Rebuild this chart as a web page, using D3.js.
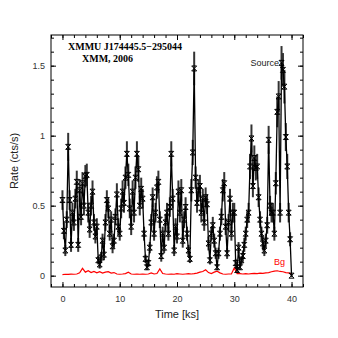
<!DOCTYPE html>
<html>
<head>
<meta charset="utf-8">
<script src="https://cdn.jsdelivr.net/npm/d3@7"></script>
<style>
  body { margin: 0; background: #fff; }
  .tick text { font-family: "Liberation Sans", Arial, sans-serif; font-size: 9px; fill: #333; }
  .axis-label { font-family: "Liberation Sans", Arial, sans-serif; font-size: 11px; fill: #222; }
  .title { font-family: "Liberation Serif", "Times New Roman", serif; font-size: 10px; font-weight: bold; fill: #000; }
</style>
</head>
<body>
<div id="chart"></div>
<script>
/* CONSTANTS AND GLOBALS */
const width = 338,
  height = 338,
  margin = { top: 35, bottom: 51, left: 51, right: 35 };

// source light curve, 0.25 ks bins starting at t = 0
const binSize = 0.25;
const rate = [
  0.54, 0.32, 0.18, 0.40, 0.92, 0.54, 0.22, 0.45, 0.38, 0.55,
  0.67, 0.22, 0.61, 0.42, 0.66, 0.50, 0.71, 0.72, 0.45, 0.33,
  0.50, 0.60, 0.38, 0.28, 0.35, 0.11, 0.08, 0.13, 0.25, 0.15,
  0.38, 0.54, 0.48, 0.30, 0.40, 0.21, 0.25, 0.42, 0.58, 0.35,
  0.30, 0.48, 0.60, 0.52, 0.70, 0.87, 0.72, 0.48, 0.35, 0.60,
  0.45, 0.70, 0.87, 0.76, 0.50, 0.62, 0.55, 0.30, 0.12, 0.06,
  0.09, 0.20, 0.38, 0.56, 0.30, 0.45, 0.63, 0.67, 0.40, 0.14,
  0.30, 0.20, 0.38, 0.45, 0.30, 0.49, 0.87, 0.55, 0.18, 0.35,
  0.28, 0.60, 0.45, 0.61, 0.25, 0.40, 0.49, 0.30, 0.18, 0.12,
  0.61, 0.88, 1.48, 0.70, 0.52, 0.61, 0.64, 0.45, 0.55, 0.38,
  0.56, 0.51, 0.23, 0.11, 0.30, 0.36, 0.25, 0.16, 0.06, 0.16,
  0.30, 0.42, 0.61, 0.66, 0.35, 0.16, 0.38, 0.55, 0.30, 0.45,
  0.45, 0.09, 0.04, 0.20, 0.06, 0.11, 0.14, 0.22, 0.30, 0.40,
  0.45, 0.78, 0.98, 0.64, 0.84, 0.77, 0.78, 0.56, 0.40, 0.30,
  0.23, 0.18, 0.25, 0.36, 0.97, 0.50, 0.45, 0.45, 0.30, 0.66,
  1.17, 1.28, 0.45, 1.52, 1.47, 1.35, 0.99, 0.78, 0.45, 0.26,
  0.00
];
const rateErr = [
  0.07, 0.06, 0.04, 0.06, 0.10, 0.07, 0.05, 0.07, 0.06, 0.07,
  0.08, 0.05, 0.08, 0.06, 0.08, 0.07, 0.08, 0.08, 0.07, 0.06,
  0.07, 0.08, 0.06, 0.05, 0.06, 0.03, 0.03, 0.04, 0.05, 0.04,
  0.06, 0.07, 0.07, 0.05, 0.06, 0.05, 0.05, 0.06, 0.08, 0.06,
  0.05, 0.07, 0.08, 0.07, 0.08, 0.09, 0.08, 0.07, 0.06, 0.08,
  0.07, 0.08, 0.09, 0.09, 0.07, 0.08, 0.07, 0.05, 0.03, 0.02,
  0.03, 0.04, 0.06, 0.07, 0.05, 0.07, 0.08, 0.08, 0.06, 0.04,
  0.05, 0.04, 0.06, 0.07, 0.05, 0.07, 0.09, 0.07, 0.04, 0.06,
  0.05, 0.08, 0.07, 0.08, 0.05, 0.06, 0.07, 0.05, 0.04, 0.03,
  0.08, 0.09, 0.12, 0.08, 0.07, 0.08, 0.08, 0.07, 0.07, 0.06,
  0.07, 0.07, 0.05, 0.03, 0.05, 0.06, 0.05, 0.04, 0.02, 0.04,
  0.05, 0.06, 0.08, 0.08, 0.06, 0.04, 0.06, 0.07, 0.05, 0.07,
  0.07, 0.03, 0.02, 0.04, 0.02, 0.03, 0.04, 0.05, 0.05, 0.06,
  0.07, 0.09, 0.10, 0.08, 0.09, 0.09, 0.09, 0.07, 0.06, 0.05,
  0.05, 0.04, 0.05, 0.06, 0.10, 0.07, 0.07, 0.07, 0.05, 0.08,
  0.11, 0.11, 0.07, 0.12, 0.12, 0.12, 0.10, 0.09, 0.07, 0.05,
  0.01
];

// background light curve, 0.5 ks bins
const bgBinSize = 0.5;
const bgRate = [
  0.008, 0.010, 0.009, 0.011, 0.010, 0.012, 0.020, 0.052, 0.025, 0.035,
  0.022, 0.030, 0.020, 0.028, 0.018, 0.025, 0.028, 0.018, 0.022, 0.012,
  0.010, 0.012, 0.015, 0.025, 0.012, 0.010, 0.011, 0.010, 0.012, 0.010,
  0.012, 0.020, 0.012, 0.015, 0.048, 0.015, 0.012, 0.010, 0.012, 0.010,
  0.014, 0.012, 0.010, 0.012, 0.014, 0.012, 0.014, 0.018, 0.025, 0.030,
  0.042, 0.022, 0.015, 0.025, 0.032, 0.020, 0.012, 0.010, 0.012, 0.012,
  0.055, 0.015, 0.015, 0.012, 0.015, 0.012, 0.014, 0.016, 0.015, 0.018,
  0.016, 0.020, 0.022, 0.028, 0.032, 0.035, 0.030, 0.028, 0.022, 0.020,
  0.012
];

const xMajor = [0, 10, 20, 30, 40];
const xMinor = d3.range(-2, 42.01, 2);
const yMajor = [0, 0.5, 1, 1.5];
const yMinor = d3.range(0, 1.71, 0.1);
const titleLines = ["XMMU J174445.5\u2212295044", "XMM, 2006"];

const source = rate.map((r, i) => ({ t: i * binSize, r: r, e: rateErr[i] }));
const bg = bgRate.map((r, i) => ({ t: i * bgBinSize, r: r }));

/* SCALES */
const xScale = d3.scaleLinear()
  .domain([-2, 42])
  .range([margin.left, width - margin.right]);

const yScale = d3.scaleLinear()
  .domain([-0.081, 1.719])
  .range([height - margin.bottom, margin.top]);

const svg = d3.select("#chart")
  .append("svg")
  .attr("width", width)
  .attr("height", height);

/* AXES (ticks point inward on all four sides) */
const fmtY = d => (d === 0 ? "0" : d3.format("~g")(d));
const bottomY = height - margin.bottom;
const rightX = width - margin.right;

function addAxis(axis, transform) {
  const g = svg.append("g").attr("transform", transform).call(axis);
  g.select(".domain").remove();
  g.selectAll(".tick line").attr("stroke", "#000");
  return g;
}

// bottom
addAxis(d3.axisBottom(xScale).tickValues(xMajor).tickSize(-5).tickPadding(9), `translate(0,${bottomY})`);
addAxis(d3.axisBottom(xScale).tickValues(xMinor).tickSize(-3).tickFormat(""), `translate(0,${bottomY})`);
// top
addAxis(d3.axisTop(xScale).tickValues(xMajor).tickSize(-5).tickFormat(""), `translate(0,${margin.top})`);
addAxis(d3.axisTop(xScale).tickValues(xMinor).tickSize(-3).tickFormat(""), `translate(0,${margin.top})`);
// left
addAxis(d3.axisLeft(yScale).tickValues(yMajor).tickSize(-5).tickPadding(6).tickFormat(fmtY), `translate(${margin.left},0)`);
addAxis(d3.axisLeft(yScale).tickValues(yMinor).tickSize(-3).tickFormat(""), `translate(${margin.left},0)`);
// right
addAxis(d3.axisRight(yScale).tickValues(yMajor).tickSize(-5).tickFormat(""), `translate(${rightX},0)`);
addAxis(d3.axisRight(yScale).tickValues(yMinor).tickSize(-3).tickFormat(""), `translate(${rightX},0)`);

// frame
svg.append("rect")
  .attr("x", margin.left)
  .attr("y", margin.top)
  .attr("width", rightX - margin.left)
  .attr("height", bottomY - margin.top)
  .attr("fill", "none")
  .attr("stroke", "#000")
  .attr("stroke-width", 1);

/* DATA */
const plot = svg.append("g");

// background
plot.append("path")
  .datum(bg)
  .attr("fill", "none")
  .attr("stroke", "#ff0000")
  .attr("stroke-width", 1.2)
  .attr("d", d3.line().x(d => xScale(d.t)).y(d => yScale(d.r)));

// error bars
plot.selectAll("line.err")
  .data(source)
  .join("line")
  .attr("class", "err")
  .attr("x1", d => xScale(d.t))
  .attr("x2", d => xScale(d.t))
  .attr("y1", d => yScale(d.r - d.e))
  .attr("y2", d => yScale(d.r + d.e))
  .attr("stroke", "#333")
  .attr("stroke-width", 2);

// connecting line
plot.append("path")
  .datum(source)
  .attr("fill", "none")
  .attr("stroke", "#000")
  .attr("stroke-width", 1.3)
  .attr("d", d3.line().x(d => xScale(d.t)).y(d => yScale(d.r)));

// star markers
const star = "M-2.5,-2.5L2.5,2.5M2.5,-2.5L-2.5,2.5M-2.5,-2.5H2.5M-2.5,2.5H2.5";
plot.selectAll("path.mark")
  .data(source)
  .join("path")
  .attr("class", "mark")
  .attr("transform", d => `translate(${xScale(d.t)},${yScale(d.r)})`)
  .attr("d", star)
  .attr("fill", "none")
  .attr("stroke", "#000")
  .attr("stroke-width", 1);

/* LABELS */
svg.append("text")
  .attr("class", "title")
  .attr("x", 68)
  .attr("y", 50)
  .text(titleLines[0]);
svg.append("text")
  .attr("class", "title")
  .attr("x", 82)
  .attr("y", 62)
  .text(titleLines[1]);

svg.append("text")
  .attr("x", xScale(37.8))
  .attr("y", yScale(1.52) + 3)
  .attr("text-anchor", "end")
  .attr("font-family", "Liberation Sans, Arial, sans-serif")
  .attr("font-size", 9)
  .attr("fill", "#222")
  .text("Source");

svg.append("text")
  .attr("x", xScale(37.9))
  .attr("y", yScale(0.1) + 3)
  .attr("text-anchor", "middle")
  .attr("font-family", "Liberation Sans, Arial, sans-serif")
  .attr("font-size", 9)
  .attr("fill", "#ff0000")
  .text("Bg");

svg.append("text")
  .attr("class", "axis-label")
  .attr("x", (margin.left + rightX) / 2)
  .attr("y", 318)
  .attr("text-anchor", "middle")
  .text("Time [ks]");

svg.append("text")
  .attr("class", "axis-label")
  .attr("transform", `translate(18,${(margin.top + bottomY) / 2}) rotate(-90)`)
  .attr("text-anchor", "middle")
  .text("Rate (cts/s)");
</script>
</body>
</html>
